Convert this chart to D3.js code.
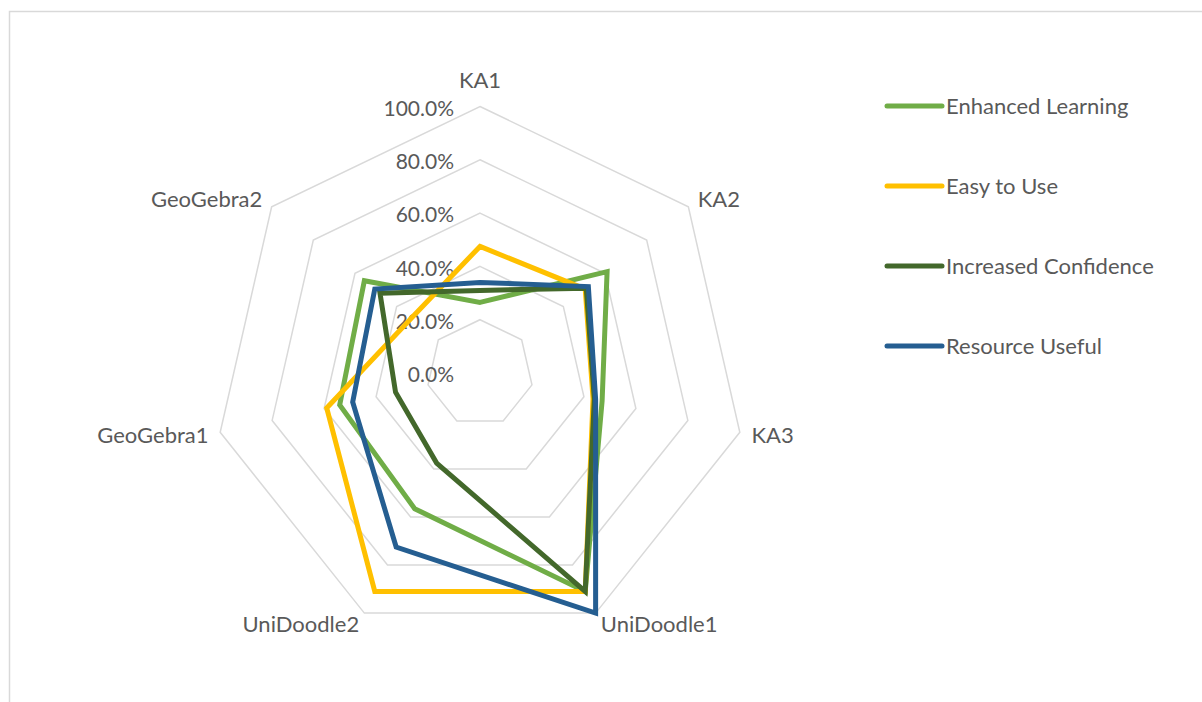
<!DOCTYPE html>
<html>
<head>
<meta charset="utf-8">
<script src="https://cdn.jsdelivr.net/npm/d3@7"></script>
<style>
  body { margin: 0; background: #fff; }
  text { font-family: Lato, "Open Sans", sans-serif; fill: #595959; }
</style>
</head>
<body>
<svg id="chart"></svg>
<script>
// data
var categories = ["KA1", "KA2", "KA3", "UniDoodle1", "UniDoodle2", "GeoGebra1", "GeoGebra2"];
var enhancedLearning    = [0.265, 0.61, 0.47, 0.91, 0.565, 0.54, 0.555];
var easyToUse           = [0.475, 0.505, 0.435, 0.91, 0.91, 0.59, 0.33];
var increasedConfidence = [0.31, 0.51, 0.44, 0.91, 0.375, 0.325, 0.48];
var resourceUseful      = [0.34, 0.52, 0.445, 1.0, 0.725, 0.49, 0.505];
var seriesNames = ["Enhanced Learning", "Easy to Use", "Increased Confidence", "Resource Useful"];
var tickValues = [0, 0.2, 0.4, 0.6, 0.8, 1.0];

function main(){
    var width = 1202, height = 702;
    var cx = 480, cy = 373, radius = 266.5;
    var colors = ["#70AD47", "#FFC000", "#43682B", "#255E91"];
    var allSeries = [enhancedLearning, easyToUse, increasedConfidence, resourceUseful];

    var svg = d3.select("#chart")
        .attr("width", width)
        .attr("height", height);

    // chart area border
    svg.append("rect")
        .attr("x", 9.5).attr("y", 11.5)
        .attr("width", width).attr("height", height)
        .attr("fill", "none")
        .attr("stroke", "#D9D9D9")
        .attr("stroke-width", 1.5);

    var r = d3.scaleLinear().domain([0, 1]).range([0, radius]);
    var angle = d3.scaleLinear().domain([0, categories.length]).range([0, 2 * Math.PI]);
    var pct = d3.format(".1%");

    var g = svg.append("g").attr("transform", "translate(" + cx + "," + cy + ")");

    // heptagon gridlines
    g.selectAll(".grid")
        .data(tickValues.filter(function(t){ return t > 0; }))
        .enter()
        .append("path")
        .attr("class", "grid")
        .attr("d", function(t){
            return d3.lineRadial()
                .angle(function(d, i){ return angle(i); })
                .radius(r(t))
                .curve(d3.curveLinearClosed)(categories);
        })
        .attr("fill", "none")
        .attr("stroke", "#D9D9D9")
        .attr("stroke-width", 1.5);

    // value axis labels
    g.selectAll(".tick")
        .data(tickValues)
        .enter()
        .append("text")
        .attr("class", "tick")
        .attr("x", -26)
        .attr("y", function(d){ return -r(d) + 2; })
        .attr("dy", "0.35em")
        .attr("text-anchor", "end")
        .attr("font-size", "21px")
        .text(function(d){ return pct(d); });

    // category labels
    g.selectAll(".cat")
        .data(categories)
        .enter()
        .append("text")
        .attr("class", "cat")
        .attr("x", function(d, i){ return Math.sin(angle(i)) * (radius + 12); })
        .attr("y", function(d, i){
            var y = -Math.cos(angle(i)) * (radius + 12);
            if (Math.abs(Math.sin(angle(i))) < 0.1) y -= 14;
            return y;
        })
        .attr("dy", "0.35em")
        .attr("text-anchor", function(d, i){
            var s = Math.sin(angle(i));
            if (Math.abs(s) < 0.1) return "middle";
            return s > 0 ? "start" : "end";
        })
        .attr("font-size", "22px")
        .text(function(d){ return d; });

    // series
    var radar = d3.lineRadial()
        .angle(function(d, i){ return angle(i); })
        .radius(function(d){ return r(d); })
        .curve(d3.curveLinearClosed);

    g.selectAll(".series")
        .data(allSeries)
        .enter()
        .append("path")
        .attr("class", "series")
        .attr("d", function(d){ return radar(d); })
        .attr("fill", "none")
        .attr("stroke", function(d, i){ return colors[i]; })
        .attr("stroke-width", 5)
        .attr("stroke-linejoin", "miter");

    // legend
    var legend = svg.selectAll(".legend")
        .data(seriesNames)
        .enter()
        .append("g")
        .attr("class", "legend")
        .attr("transform", function(d, i){ return "translate(887," + (106 + i * 80) + ")"; });

    legend.append("line")
        .attr("x1", 0).attr("x2", 55)
        .attr("y1", 0).attr("y2", 0)
        .attr("stroke", function(d, i){ return colors[i]; })
        .attr("stroke-width", 5)
        .attr("stroke-linecap", "round");

    legend.append("text")
        .attr("x", 59)
        .attr("y", 0)
        .attr("dy", "0.35em")
        .attr("font-size", "22px")
        .text(function(d){ return d; });
}
main();
</script>
</body>
</html>
